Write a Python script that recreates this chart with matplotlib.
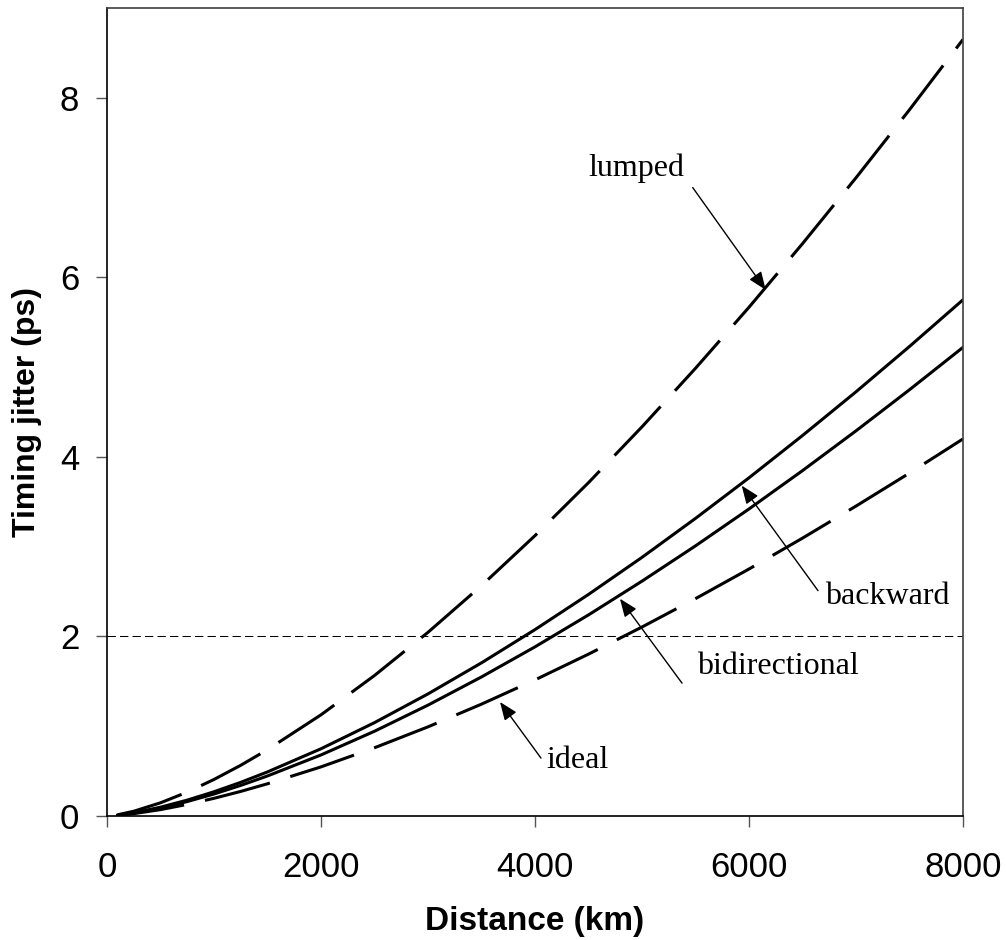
import numpy as np
import matplotlib
matplotlib.use('Agg')
import matplotlib.pyplot as plt

# distance (km) and timing jitter (ps)
distance = [100, 250, 500, 750, 1000, 1250, 1500, 2000, 2500, 3000, 3500, 4000,
            4500, 5000, 5500, 6000, 6500, 7000, 7500, 8000]
lumped = [0.014, 0.053, 0.147, 0.266, 0.407, 0.565, 0.739, 1.127, 1.565, 2.046,
          2.566, 3.123, 3.713, 4.335, 4.987, 5.667, 6.375, 7.109, 7.867, 8.65]
backward = [0.009, 0.035, 0.098, 0.177, 0.270, 0.375, 0.491, 0.749, 1.040, 1.360,
            1.706, 2.076, 2.468, 2.881, 3.315, 3.767, 4.238, 4.725, 5.230, 5.75]
bidirectional = [0.008, 0.032, 0.089, 0.161, 0.245, 0.341, 0.446, 0.680, 0.944,
                 1.235, 1.549, 1.884, 2.240, 2.616, 3.009, 3.420, 3.847, 4.290,
                 4.748, 5.22]
ideal = [0.007, 0.026, 0.071, 0.129, 0.197, 0.274, 0.359, 0.547, 0.760, 0.993,
         1.246, 1.516, 1.803, 2.105, 2.421, 2.751, 3.095, 3.452, 3.820, 4.2]
threshold = 2.0

xticks = [0, 2000, 4000, 6000, 8000]
yticks = [0, 2, 4, 6, 8]

# label text, text position, arrow start, arrow tip
labels = [
    ('lumped', (4944, 7.21), (5474, 7.00), (6156, 5.86)),
    ('backward', (7290, 2.44), (6645, 2.51), (5932, 3.68)),
    ('bidirectional', (6271, 1.66), (5374, 1.48), (4794, 2.42)),
    ('ideal', (4393, 0.62), (4056, 0.645), (3673, 1.27)),
]

fig = plt.figure(figsize=(10.06, 9.4), dpi=100)
ax = fig.add_axes([107 / 1006, 124 / 940, 856 / 1006, 808 / 940])

lw = 2.2
ax.plot(distance, lumped, color='black', lw=lw, dashes=(22, 7))
ax.plot(distance, backward, color='black', lw=lw)
ax.plot(distance, bidirectional, color='black', lw=lw)
ax.plot(distance, ideal, color='black', lw=lw, dashes=(22, 7))
ax.axhline(threshold, color='black', lw=0.75, dashes=(8, 4))

for txt, tpos, start, tip in labels:
    ax.text(tpos[0], tpos[1], txt, family='Liberation Serif', fontsize=23,
            ha='center', va='center')
    ax.annotate('', xy=tip, xytext=start,
                arrowprops=dict(arrowstyle='-|>,head_length=0.55,head_width=0.22',
                                color='black', lw=1, shrinkA=0, shrinkB=0,
                                mutation_scale=20))

ax.set_xlim(0, 8000)
ax.set_ylim(0, 9)
ax.set_xticks(xticks)
ax.set_yticks(yticks)
ax.tick_params(direction='out', length=8, width=1, color='#555555',
               labelsize=25)
ax.tick_params(axis='x', pad=17)
ax.tick_params(axis='y', pad=12)
for lab in ax.get_xticklabels() + ax.get_yticklabels():
    lab.set_family('Liberation Sans')

for s in ['left', 'bottom']:
    ax.spines[s].set_linewidth(1.2)
    ax.spines[s].set_color('black')
for s in ['top', 'right']:
    ax.spines[s].set_linewidth(1.2)
    ax.spines[s].set_color('#404040')

ax.set_xlabel('Distance (km)', family='Liberation Sans', fontsize=24,
              fontweight='bold', labelpad=16)
ax.set_ylabel('Timing jitter (ps)', family='Liberation Sans', fontsize=23,
              fontweight='bold', labelpad=13)

fig.savefig('out.png', dpi=100)
